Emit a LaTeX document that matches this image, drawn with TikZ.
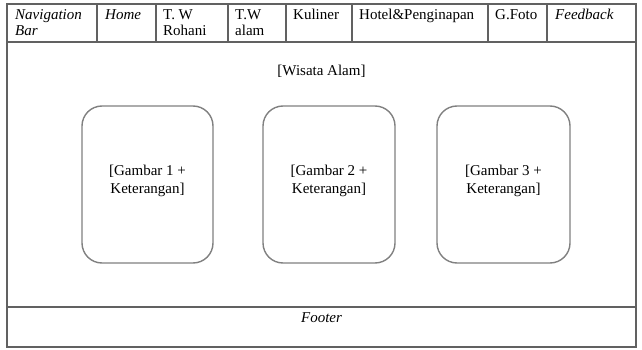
\documentclass[tikz,border=0pt]{standalone}
\usepackage{fontspec}
\setmainfont{Liberation Serif}
\usetikzlibrary{positioning}

\tikzset{
  frame/.style={draw=black!62, line width=1.3pt},
  navcell/.style={anchor=base west, inner sep=0pt, align=left,
                  font=\fontsize{15}{16}\selectfont},
  gambarbox/.style={draw=black!50, line width=1.4pt, rounded corners=20pt,
                    minimum height=157pt},
  gambartext/.style={anchor=base, inner sep=0pt, align=center,
                     font=\fontsize{15}{18}\selectfont},
}

\begin{document}
\begin{tikzpicture}[x=1pt, y=-1pt]
   \useasboundingbox (0,0) rectangle (642,350);

   % outer frame, navigation row and footer row
   \draw[frame] (7,4) rectangle (636,347);
   \draw[frame] (7,42) -- (636,42);
   \draw[frame] (7,307) -- (636,307);
   \foreach \cx in {97,156,228,286,352,488,547}
      \draw[frame] (\cx,4) -- (\cx,42);

   % navigation bar (base = last line)
   \node[navcell] (nav)     at (15,36)  {\itshape Navigation\\\itshape Bar};
   \node[navcell] (home)    at (105,20) {\itshape Home};
   \node[navcell] (rohani)  at (163,36) {T. W\\Rohani};
   \node[navcell] (alam)    at (235,36) {T.W\\alam};
   \node[navcell] (kuliner) at (293,20) {Kuliner};
   \node[navcell] (hotel)   at (359,20) {Hotel\&Penginapan};
   \node[navcell] (foto)    at (495,20) {G.Foto};
   \node[navcell] (feedback) at (555,20) {\itshape Feedback};

   % content
   \node[gambartext] (judul) at (321.5,75.5) {[Wisata Alam]};

   \node[gambarbox, minimum width=131pt] (g1) at (147.5,184.5) {};
   \node[gambarbox, minimum width=132pt] (g2) at (329,184.5) {};
   \node[gambarbox, minimum width=133pt] (g3) at (503.5,184.5) {};

   \node[gambartext] (t1) at (147.5,193) {[Gambar 1 +\\Keterangan]};
   \node[gambartext] (t2) at (329,193)   {[Gambar 2 +\\Keterangan]};
   \node[gambartext] (t3) at (503.5,193) {[Gambar 3 +\\Keterangan]};

   % footer
   \node[gambartext, font=\fontsize{15}{18}\selectfont\itshape] (footer)
      at (321.5,322) {Footer};
\end{tikzpicture}
\end{document}
